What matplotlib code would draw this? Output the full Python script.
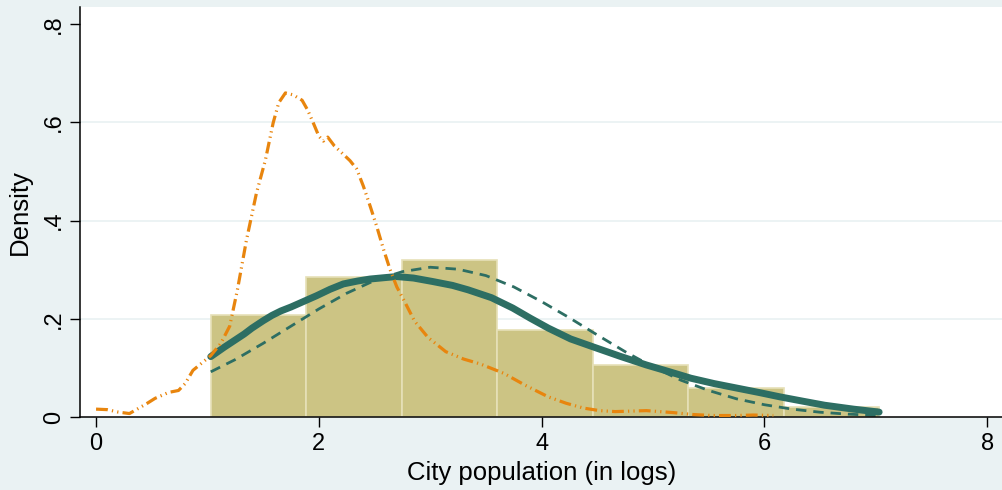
import matplotlib
matplotlib.use("Agg")
import matplotlib.pyplot as plt

plt.rcParams['font.family'] = ['Liberation Sans', 'DejaVu Sans']
plt.rcParams['lines.scale_dashes'] = False

# Histogram (bin edges and densities)
bin_edges = [1.03, 1.887, 2.744, 3.601, 4.458, 5.315, 6.172, 7.03]
bin_heights = [0.208, 0.285, 0.320, 0.177, 0.106, 0.060, 0.020]

# Kernel density (thick solid line)
kde_x = [1.03, 1.15, 1.33, 1.40, 1.50, 1.58, 1.66, 1.75, 1.85, 1.98, 2.10, 2.22, 2.35, 2.46,
         2.60, 2.70, 2.85, 3.02, 3.20, 3.34, 3.55, 3.74, 3.90, 4.06, 4.26, 4.46, 4.70,
         4.94, 5.15, 5.34, 5.55, 5.75, 5.95, 6.14, 6.35, 6.54, 6.80, 7.03]
kde_y = [0.123, 0.142, 0.169, 0.181, 0.196, 0.207, 0.216, 0.224, 0.234, 0.247, 0.260, 0.271,
         0.277, 0.281, 0.284, 0.286, 0.283, 0.276, 0.268, 0.259, 0.243, 0.222, 0.201, 0.181,
         0.159, 0.143, 0.124, 0.106, 0.092, 0.079, 0.068, 0.059, 0.050, 0.041, 0.032, 0.024,
         0.016, 0.010]

# Normal density (dashed line)
norm_x = [1.03, 1.25, 1.5, 1.75, 2.0, 2.25, 2.5, 2.75, 3.0, 3.25, 3.5, 3.75, 4.0,
          4.25, 4.5, 4.75, 5.0, 5.25, 5.5, 5.75, 6.0, 6.25, 6.5, 6.75, 7.03]
norm_y = [0.092, 0.117, 0.150, 0.185, 0.220, 0.252, 0.278, 0.296, 0.305, 0.301, 0.288, 0.265, 0.235,
          0.202, 0.167, 0.133, 0.102, 0.075, 0.054, 0.037, 0.025, 0.016, 0.0097, 0.0058, 0.003]

# Second density (orange dash-dot-dot line)
org_x = [0.0, 0.1, 0.2, 0.3, 0.46, 0.53, 0.65, 0.74, 0.8, 0.87, 0.95, 1.03, 1.12, 1.2, 1.27,
         1.35, 1.44, 1.52, 1.59, 1.64, 1.70, 1.77, 1.85, 1.90, 1.95, 2.0, 2.04, 2.08, 2.14,
         2.22, 2.28, 2.34, 2.40, 2.46, 2.52, 2.58, 2.64, 2.70, 2.77, 2.86, 2.98, 3.14, 3.30,
         3.45, 3.66, 3.85, 4.06, 4.22, 4.38, 4.52, 4.66, 4.80, 4.94, 5.06, 5.18, 5.36, 5.54,
         5.75, 5.90, 6.08]
org_y = [0.016, 0.015, 0.010, 0.007, 0.028, 0.038, 0.050, 0.054, 0.068, 0.095, 0.110, 0.125,
         0.150, 0.185, 0.260, 0.360, 0.456, 0.523, 0.599, 0.640, 0.660, 0.656, 0.645, 0.625,
         0.599, 0.572, 0.562, 0.570, 0.552, 0.535, 0.522, 0.505, 0.470, 0.430, 0.388, 0.342,
         0.300, 0.265, 0.235, 0.195, 0.162, 0.133, 0.118, 0.108, 0.089, 0.065, 0.041, 0.028,
         0.018, 0.013, 0.011, 0.012, 0.013, 0.011, 0.009, 0.005, 0.003, 0.003, 0.004, 0.003]

x_ticks = [0, 2, 4, 6, 8]
x_ticklabels = ["0", "2", "4", "6", "8"]
y_ticks = [0, 0.2, 0.4, 0.6, 0.8]
y_ticklabels = ["0", ".2", ".4", ".6", ".8"]
grid_levels = [0.2, 0.4, 0.6]

BG = '#EAF2F3'
TEAL = '#2D6E63'
ORANGE = '#E8850E'
BAR = '#CCC484'
BAR_EDGE = '#E6E0B8'

fig = plt.figure(figsize=(10.02, 4.9), dpi=100, facecolor=BG)
ax = fig.add_axes([80 / 1002, 73 / 490, 922 / 1002, 410 / 490])
ax.set_facecolor('white')

for g in grid_levels:
    ax.axhline(g, color=BG, lw=1.3, zorder=0)

widths = [bin_edges[i + 1] - bin_edges[i] for i in range(len(bin_heights))]
ax.bar(bin_edges[:-1], bin_heights, width=widths, align='edge', color=BAR,
       edgecolor=BAR_EDGE, linewidth=1.2, zorder=1)

ax.plot(norm_x, norm_y, color=TEAL, lw=2.0, dashes=(7.5, 5), zorder=2)
ax.plot(kde_x, kde_y, color=TEAL, lw=5.0, solid_capstyle='round',
        solid_joinstyle='round', zorder=3)
ax.plot(org_x, org_y, color=ORANGE, lw=2.3, dashes=(8.5, 3.0, 0.9, 3.0, 0.9, 3.0), zorder=4)

ax.set_xlim(-0.144, 8.133)
ax.set_ylim(0, 0.835)

ax.set_xticks(x_ticks)
ax.set_xticklabels(x_ticklabels, fontsize=17)
ax.set_yticks(y_ticks)
ax.set_yticklabels(y_ticklabels, fontsize=17, rotation=90, va='center')

ax.tick_params(axis='x', length=7.2, width=1.0, pad=4, colors='black')
ax.tick_params(axis='y', length=7.2, width=1.0, pad=3.6, colors='black')

for s in ['top', 'right']:
    ax.spines[s].set_visible(False)
for s in ['left', 'bottom']:
    ax.spines[s].set_linewidth(1.1)
    ax.spines[s].set_color('black')

ax.set_xlabel("City population (in logs)", fontsize=18.5)
ax.xaxis.set_label_coords(0.501, -0.107)
ax.set_ylabel("Density", fontsize=18.5)
ax.yaxis.set_label_coords(-0.052, 0.5)

fig.savefig("out.png", dpi=100, facecolor=BG)
